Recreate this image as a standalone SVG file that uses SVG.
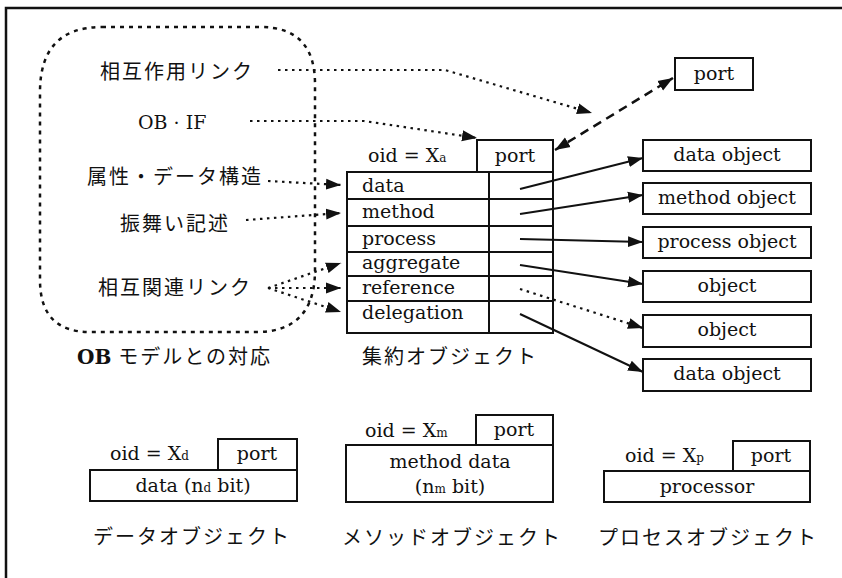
<svg xmlns="http://www.w3.org/2000/svg" width="842" height="578" viewBox="0 0 842 578">
<style>
.box{fill:#fff;stroke:#111;stroke-width:2}
.lat{font-family:"DejaVu Serif","Liberation Serif",serif;font-size:19px;fill:#111}
.jp{font-family:"Noto Sans CJK JP",sans-serif;font-size:20px;letter-spacing:2px;fill:#111}
.sub{font-size:12px}
.solid{fill:none;stroke:#111;stroke-width:2;marker-end:url(#ah)}
.dot{fill:none;stroke:#111;stroke-width:2.2;stroke-dasharray:2.5 4.5;marker-end:url(#ah)}
.dash{fill:none;stroke:#111;stroke-width:2.5;stroke-dasharray:9 6}
</style>
<defs>
<marker id="ah" markerUnits="userSpaceOnUse" markerWidth="16" markerHeight="12" refX="15" refY="6" orient="auto-start-reverse">
<path d="M0,0.5 L15,6 L0,11.5 z" fill="#111"/>
</marker>
</defs>
<rect width="842" height="578" fill="#fff"/>
<path d="M6,578 V8 H842" fill="none" stroke="#111" stroke-width="2.5"/>

<g id="ob-model">
<path d="M102,27 H260 Q315,27 315,84 V270 Q315,332 256,332 H90 Q40,332 40,280 V92 Q40,27 102,27 Z" fill="none" stroke="#111" stroke-width="2.5" stroke-dasharray="4 5"/>
<text class="jp" x="100" y="79">相互作用リンク</text>
<text class="lat" x="138" y="129" font-size="20">OB · IF</text>
<text class="jp" x="87" y="184">属性・データ構造</text>
<text class="jp" x="120" y="231">振舞い記述</text>
<text class="jp" x="98" y="295">相互関連リンク</text>
<text class="jp" x="77" y="364"><tspan font-family="DejaVu Serif,serif" font-weight="bold" letter-spacing="0">OB </tspan>モデルとの対応</text>
</g>

<g id="aggregate-object">
<rect class="box" x="477" y="140" width="76" height="32"/>
<text class="lat" x="515" y="162" text-anchor="middle">port</text>
<text class="lat" x="368" y="162">oid = X<tspan class="sub">a</tspan></text>
<rect class="box" x="347" y="172" width="206" height="161"/>
<path d="M489,172 V333 M347,199 H553 M347,226 H553 M347,252 H553 M347,276 H553 M347,301 H553" stroke="#111" stroke-width="2" fill="none"/>
<text class="lat" x="362" y="192">data</text>
<text class="lat" x="362" y="218">method</text>
<text class="lat" x="362" y="245">process</text>
<text class="lat" x="362" y="269">aggregate</text>
<text class="lat" x="362" y="294">reference</text>
<text class="lat" x="362" y="319">delegation</text>
<text class="jp" x="362" y="364">集約オブジェクト</text>
</g>

<g id="port-top"><rect class="box" x="675" y="58" width="78" height="32"/><text class="lat" x="714" y="80" text-anchor="middle">port</text></g>
<g id="data-object-1"><rect class="box" x="643" y="140" width="168" height="31"/><text class="lat" x="727" y="161" text-anchor="middle">data object</text></g>
<g id="method-object"><rect class="box" x="643" y="183" width="168" height="31"/><text class="lat" x="727" y="204" text-anchor="middle">method object</text></g>
<g id="process-object"><rect class="box" x="643" y="227" width="168" height="31"/><text class="lat" x="727" y="248" text-anchor="middle">process object</text></g>
<g id="object-1"><rect class="box" x="643" y="271" width="168" height="31"/><text class="lat" x="727" y="292" text-anchor="middle">object</text></g>
<g id="object-2"><rect class="box" x="643" y="315" width="168" height="32"/><text class="lat" x="727" y="336" text-anchor="middle">object</text></g>
<g id="data-object-2"><rect class="box" x="643" y="359" width="168" height="32"/><text class="lat" x="727" y="380" text-anchor="middle">data object</text></g>

<g id="data-obj">
<rect class="box" x="218" y="439" width="79" height="31"/>
<text class="lat" x="257" y="460" text-anchor="middle">port</text>
<rect class="box" x="90" y="470" width="207" height="31"/>
<text class="lat" x="110" y="460">oid = X<tspan class="sub">d</tspan></text>
<text class="lat" x="193" y="492" text-anchor="middle">data (n<tspan class="sub">d</tspan> bit)</text>
<text class="jp" x="93" y="544">データオブジェクト</text>
</g>

<g id="method-obj">
<rect class="box" x="476" y="415" width="77" height="30"/>
<text class="lat" x="514" y="436" text-anchor="middle">port</text>
<rect class="box" x="346" y="445" width="207" height="57"/>
<text class="lat" x="365" y="437">oid = X<tspan class="sub">m</tspan></text>
<text class="lat" x="450" y="468" text-anchor="middle">method data</text>
<text class="lat" x="450" y="493" text-anchor="middle">(n<tspan class="sub">m</tspan> bit)</text>
<text class="jp" x="342" y="545">メソッドオブジェクト</text>
</g>

<g id="process-obj">
<rect class="box" x="733" y="441" width="77" height="30"/>
<text class="lat" x="771" y="462" text-anchor="middle">port</text>
<rect class="box" x="604" y="471" width="206" height="31"/>
<text class="lat" x="625" y="462">oid = X<tspan class="sub">p</tspan></text>
<text class="lat" x="707" y="493" text-anchor="middle">processor</text>
<text class="jp" x="598" y="545">プロセスオブジェクト</text>
</g>

<g id="connectors">
<path class="dot" d="M278,70 H445 L592,113"/>
<path class="dot" d="M250,121 H364 L477,138"/>
<path class="dot" d="M268,181 L341,185"/>
<path class="dot" d="M246,220 L341,213"/>
<path class="dot" d="M268,288 L341,263"/>
<path class="dot" d="M268,288 L341,288"/>
<path class="dot" d="M268,288 L341,312"/>
<path class="dash" d="M555,150 L673,78" marker-start="url(#ah)" marker-end="url(#ah)"/>
<path class="solid" d="M520,189 L643,158"/>
<path class="solid" d="M520,214 L643,195"/>
<path class="solid" d="M520,239 L643,242"/>
<path class="solid" d="M520,265 L643,284"/>
<path class="dot" d="M520,289 L643,328"/>
<path class="solid" d="M520,314 L643,372"/>
</g>
</svg>
